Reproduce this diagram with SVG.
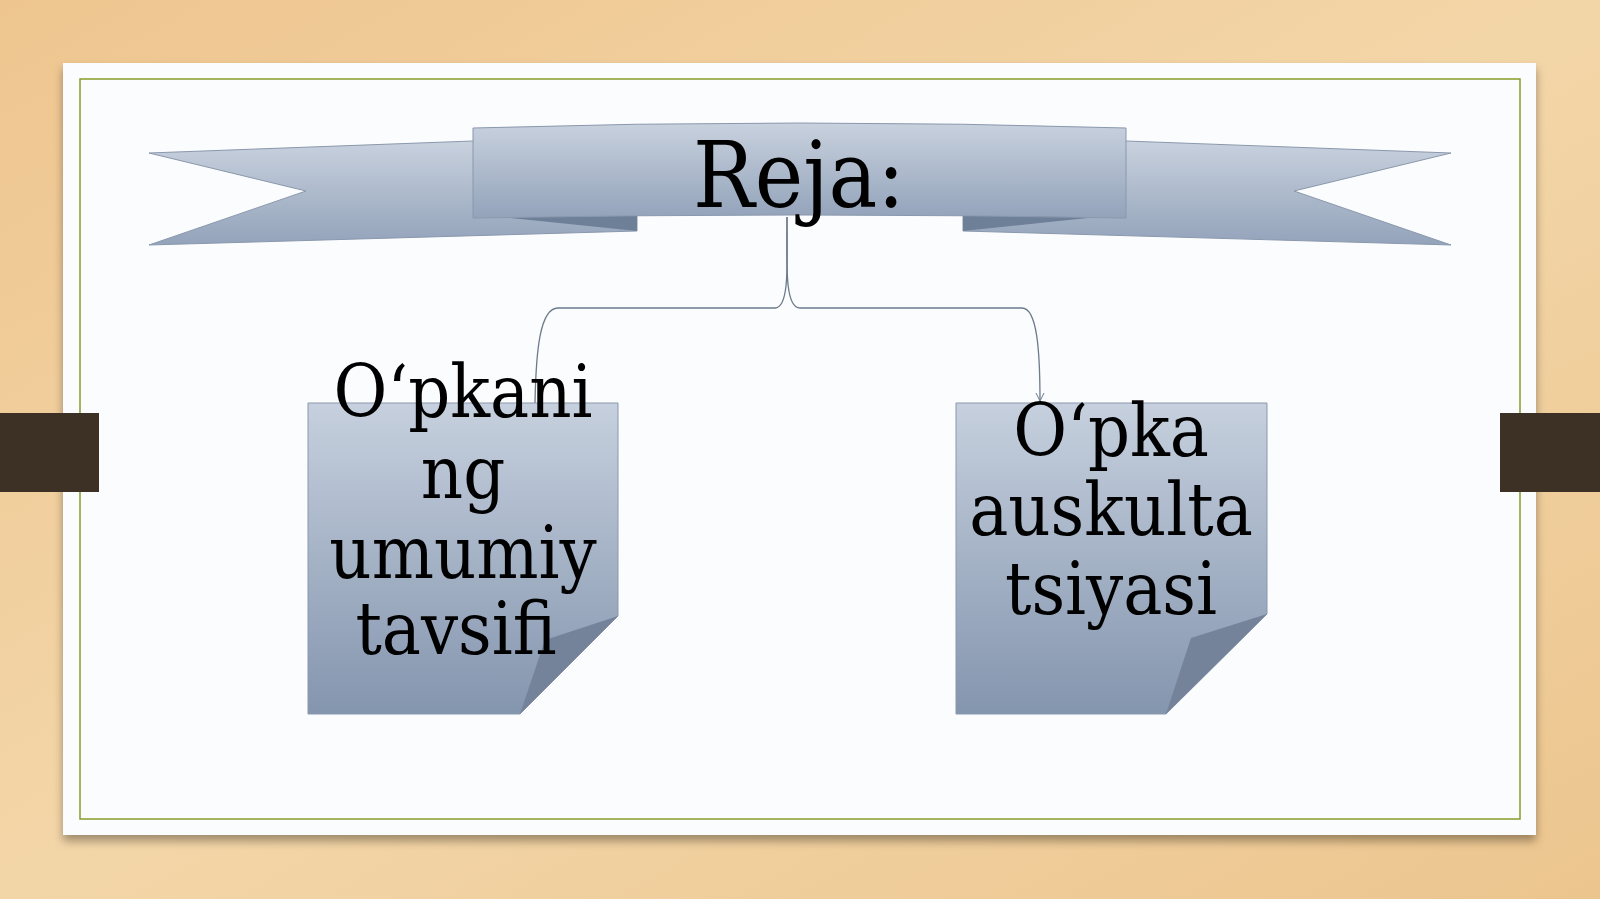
<svg xmlns="http://www.w3.org/2000/svg" width="1600" height="899" viewBox="0 0 1600 899">
<defs>
<linearGradient id="bg" x1="0" y1="0" x2="1" y2="1"><stop offset="0" stop-color="#eec58f"/><stop offset="0.5" stop-color="#f3d6a8"/><stop offset="1" stop-color="#ecc58e"/></linearGradient>
<linearGradient id="box" x1="0" y1="0" x2="0" y2="1"><stop offset="0" stop-color="#c6d0de"/><stop offset="1" stop-color="#8495ae"/></linearGradient>
<linearGradient id="rib" x1="0" y1="0" x2="0" y2="1"><stop offset="0" stop-color="#c8d1de"/><stop offset="1" stop-color="#93a3ba"/></linearGradient>
<marker id="ar" markerWidth="12" markerHeight="12" refX="9" refY="5" orient="auto" markerUnits="userSpaceOnUse"><path d="M1,1 L9,5 L1,9" fill="none" stroke="#6c7a8c" stroke-width="1"/></marker>
<filter id="sh" x="-5%" y="-5%" width="110%" height="115%"><feDropShadow dx="0" dy="6" stdDeviation="5" flood-opacity="0.35"/></filter>
</defs>
<style>
.t{font-family:"DejaVu Serif Condensed","Liberation Serif",serif;font-stretch:condensed;fill:#000;text-anchor:middle}
.c{fill:none;stroke:#6c7a8c;stroke-width:1.3}
</style>
<rect width="1600" height="899" fill="url(#bg)"/>
<rect x="63" y="63" width="1473" height="772" fill="#fbfcfd" filter="url(#sh)"/>
<rect x="80" y="79" width="1440" height="740" fill="none" stroke="#8a9a2a" stroke-width="1.5"/>
<rect x="0" y="413" width="99" height="79" fill="#3d3025"/>
<rect x="1500" y="413" width="100" height="79" fill="#3d3025"/>
<g id="title">
<path d="M149,153 L473,141 L637,212 L637,231 L149,245 L306,191 Z" fill="url(#rib)" stroke="#8a98ad"/>
<path d="M1451,153 L1126,141 L963,212 L963,231 L1451,245 L1294,191 Z" fill="url(#rib)" stroke="#8a98ad"/>
<path d="M473,214 L637,216 L637,231 Z" fill="#6e7f98"/>
<path d="M1126,214 L963,216 L963,231 Z" fill="#6e7f98"/>
<path d="M473,128 Q800,118 1126,128 L1126,218 Q800,212 473,218 Z" fill="url(#rib)" stroke="#8a98ad"/>
<text class="t" x="799" y="207" font-size="91">Reja:</text>
</g>
<g id="connectors">
<path class="c" d="M787,217 C787,260 790,308 775,308 L558,308 C540,308 536,350 535,403"/>
<path class="c" d="M787,217 C787,260 784,308 800,308 L1022,308 C1037,308 1040,350 1040,401" marker-end="url(#ar)"/>
</g>
<g id="n1">
<path d="M308,403 L618,403 L618,616 L520,714 L308,714 Z" fill="url(#box)" stroke="#8a98ad"/>
<path d="M618,616 L520,714 L545,640 Z" fill="#74839a"/>
<text class="t" font-size="73"><tspan x="463" y="417">O‘pkani</tspan><tspan x="463" y="498">ng</tspan><tspan x="463" y="578">umumiy</tspan><tspan x="456" y="654">tavsifi</tspan></text>
</g>
<g id="n2">
<path d="M956,403 L1267,403 L1267,614 L1166,714 L956,714 Z" fill="url(#box)" stroke="#8a98ad"/>
<path d="M1267,614 L1166,714 L1191,638 Z" fill="#74839a"/>
<text class="t" font-size="73"><tspan x="1111" y="456">O‘pka</tspan><tspan x="1111" y="535">auskulta</tspan><tspan x="1111" y="614">tsiyasi</tspan></text>
</g>
</svg>
